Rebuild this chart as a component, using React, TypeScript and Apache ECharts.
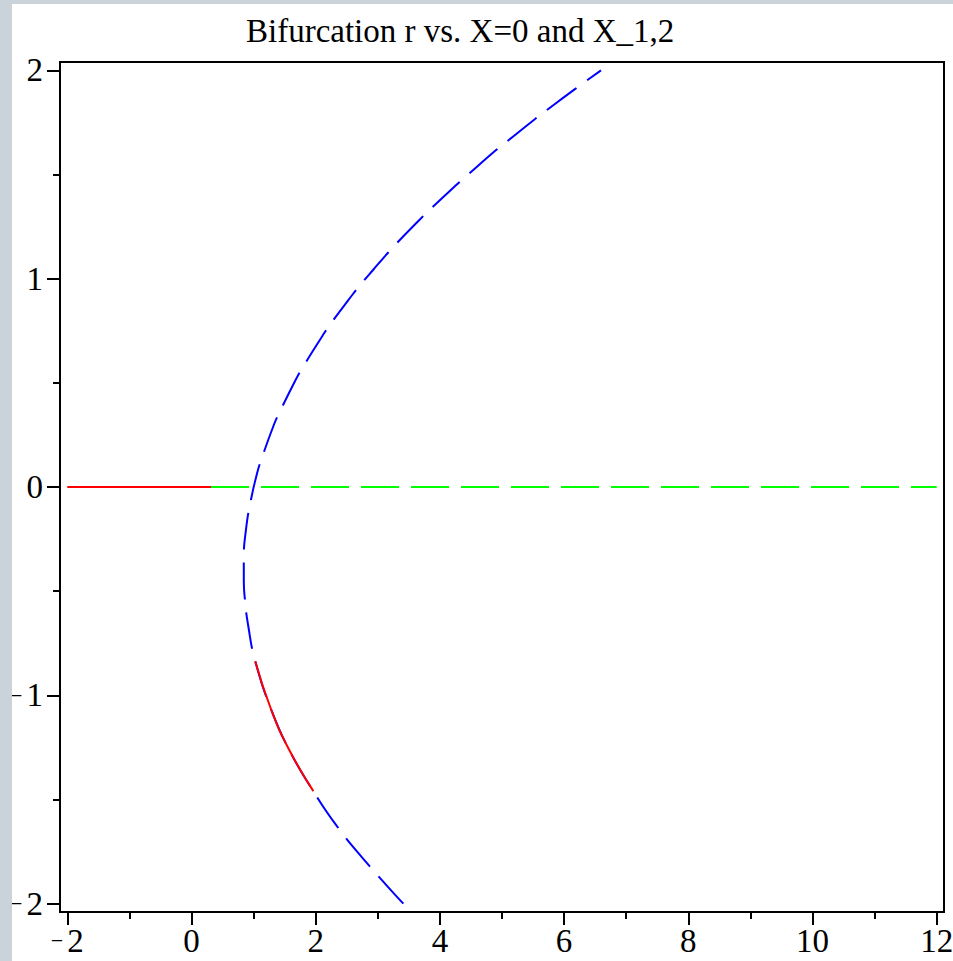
import React, { useEffect, useRef } from 'react';
import * as echarts from 'echarts';

const chartTitle = 'Bifurcation r vs. X=0 and X_1,2';

const xMajorTicks = [-2, 0, 2, 4, 6, 8, 10, 12];
const xMinorTicks = [-1, 1, 3, 5, 7, 9, 11];
const yMajorTicks = [-2, -1, 0, 1, 2];
const yMinorTicks = [-1.5, -0.5, 0.5, 1.5];

// X_1,2 branch: X values and the r at which it sits
const branchX = [
  -2.0, -1.78, -1.628, -1.46, -1.26, -1.068, -0.836, -0.66, -0.54, -0.45, -0.348, -0.2,
  -0.06, 0.068, 0.132, 0.3, 0.356, 0.516, 0.572, 0.724, 0.78, 0.924, 0.972, 1.044, 1.107,
  1.16, 1.284, 1.332, 1.448, 1.495, 1.616, 1.655, 1.763, 1.803, 1.911, 2.0,
];
const branchR = [
  3.411, 2.752, 2.342, 1.962, 1.57, 1.282, 1.026, 0.91, 0.86, 0.842, 0.842, 0.879,
  0.958, 1.058, 1.124, 1.328, 1.413, 1.68, 1.786, 2.105, 2.232, 2.594, 2.723, 2.93, 3.113,
  3.272, 3.677, 3.841, 4.258, 4.435, 4.9, 5.064, 5.518, 5.693, 6.18, 6.594,
];
// stable (solid red) part of the branch, as an X interval
const stableBranchX = [-1.46, -0.836];

// X = 0 branch
const trivialX = 0;
const trivialStableR = [-2, 0.314];
const trivialUnstableR = [0.314, 12];

const FONT = "'Liberation Serif', 'Times New Roman', serif";

const fmt = (v: number) => (v < 0 ? '{m|\u2212}{d|' + Math.abs(v) + '}' : '{d|' + v + '}');

export default function App() {
  const ref = useRef<HTMLDivElement>(null);
  useEffect(() => {
    if (!ref.current) return;
    const chart = echarts.init(ref.current, undefined, { renderer: 'svg' });
    const branchData = branchR.map((r, i) => [r, branchX[i]]);
    const stableData = branchR
      .map((r, i) => [r, branchX[i]])
      .filter((p) => p[1] >= stableBranchX[0] - 1e-9 && p[1] <= stableBranchX[1] + 1e-9);
    const xMin = -2.118;
    const xMax = 12.118;
    const yMin = -2.04;
    const yMax = 2.04;
    const labelStyle = {
      fontFamily: FONT,
      fontSize: 33,
      color: '#000',
      rich: {
        m: { fontFamily: FONT, fontSize: 22, color: '#000', padding: [0, 4, 0, 0] },
        d: { fontFamily: FONT, fontSize: 33, color: '#000' },
      },
    };
    const option: any = {
      animation: false,
      backgroundColor: '#ffffff',
      title: {
        text: chartTitle,
        left: 246,
        top: 14,
        padding: 0,
        textStyle: { fontFamily: FONT, fontSize: 33, fontWeight: 'normal', color: '#000' },
      },
      grid: {
        left: 60,
        top: 62,
        right: 9,
        bottom: 49,
        show: true,
        borderColor: '#000',
        borderWidth: 2,
        backgroundColor: 'transparent',
        containLabel: false,
        outerBoundsMode: 'none',
      },
      xAxis: [
        {
          type: 'value',
          position: 'bottom',
          min: xMin,
          max: xMax,
          axisLine: { show: false, onZero: false },
          splitLine: { show: false },
          axisTick: { show: true, customValues: xMajorTicks, length: 13, lineStyle: { color: '#000', width: 2 } },
          axisLabel: { show: true, customValues: xMajorTicks, formatter: fmt, margin: 12, ...labelStyle },
        },
        {
          type: 'value',
          position: 'bottom',
          offset: 0,
          min: xMin,
          max: xMax,
          axisLine: { show: false, onZero: false },
          splitLine: { show: false },
          axisTick: { show: true, customValues: xMinorTicks, length: 7, lineStyle: { color: '#000', width: 2 } },
          axisLabel: { show: false },
        },
      ],
      yAxis: [
        {
          type: 'value',
          position: 'left',
          min: yMin,
          max: yMax,
          axisLine: { show: false, onZero: false },
          splitLine: { show: false },
          axisTick: { show: true, customValues: yMajorTicks, length: 13, lineStyle: { color: '#000', width: 2 } },
          axisLabel: { show: true, customValues: yMajorTicks, formatter: fmt, margin: 17, ...labelStyle },
        },
        {
          type: 'value',
          position: 'left',
          offset: 0,
          min: yMin,
          max: yMax,
          axisLine: { show: false, onZero: false },
          splitLine: { show: false },
          axisTick: { show: true, customValues: yMinorTicks, length: 7, lineStyle: { color: '#000', width: 2 } },
          axisLabel: { show: false },
        },
      ],
      series: [
        {
          type: 'line',
          name: 'X=0 stable',
          data: trivialStableR.map((r) => [r, trivialX]),
          symbol: 'none',
          lineStyle: { color: '#ff0000', width: 2 },
          z: 2,
        },
        {
          type: 'line',
          name: 'X=0 unstable',
          data: trivialUnstableR.map((r) => [r, trivialX]),
          symbol: 'none',
          lineStyle: { color: '#00ff00', width: 2, type: [38, 12] },
          z: 2,
        },
        {
          type: 'line',
          name: 'X_1,2',
          data: branchData,
          symbol: 'none',
          smooth: 0.5,
          lineStyle: { color: '#0000ff', width: 2, type: [37, 13] },
          z: 3,
        },
        {
          type: 'line',
          name: 'X_1,2 stable',
          data: stableData,
          symbol: 'none',
          smooth: 0.5,
          lineStyle: { color: '#ff0000', width: 2 },
          z: 4,
        },
      ],
      graphic: {
        elements: [
          { type: 'rect', z: 100, shape: { x: 0, y: 0, width: 12, height: 961 }, style: { fill: '#c9d3d9' } },
          { type: 'rect', z: 100, shape: { x: 0, y: 0, width: 953, height: 4 }, style: { fill: '#c9d3d9' } },
        ],
      },
    };
    chart.setOption(option);
    return () => chart.dispose();
  }, []);
  return (
    <div style={{ position: 'fixed', left: 0, top: 0, width: 953, height: 961, background: '#fff' }}>
      <div ref={ref} style={{ width: 953, height: 961 }} />
    </div>
  );
}
